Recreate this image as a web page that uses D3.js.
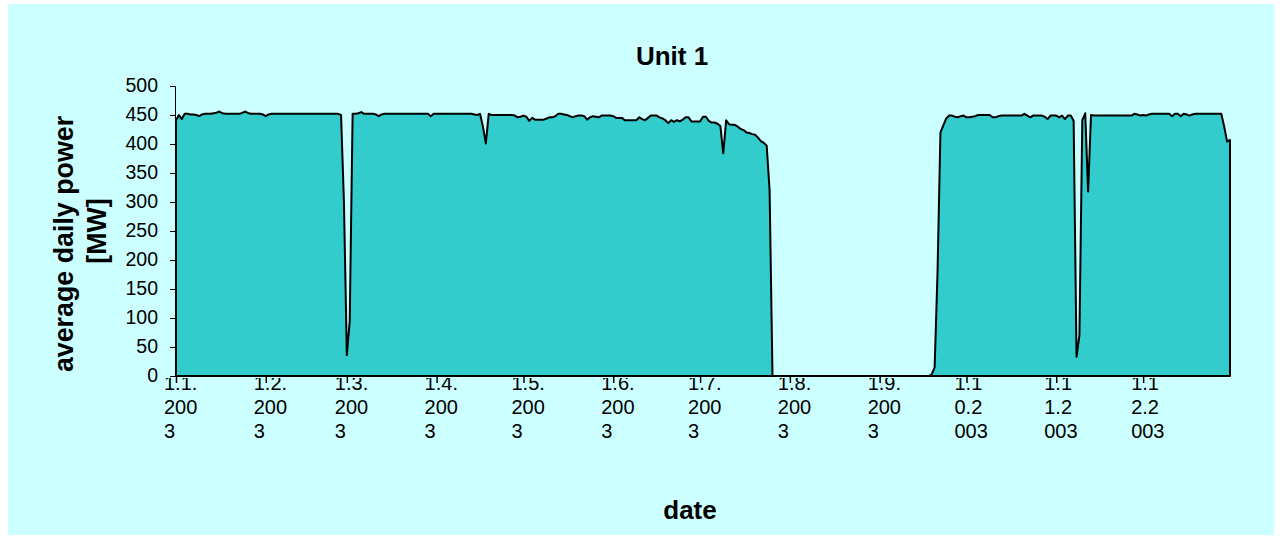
<!DOCTYPE html>
<html><head><meta charset="utf-8">
<script src="https://cdn.jsdelivr.net/npm/d3@7"></script>
<style>
body{margin:0;background:#ffffff}
svg{display:block}
text{font-family:"Liberation Sans",Arial,sans-serif;fill:#000}
</style>
</head><body>
<svg id="chart" width="1282" height="539"></svg>
<script>
// ---------- data ----------
const chartTitle = "Unit 1";
const yAxisTitle = ["average daily power", "[MW]"];
const xAxisTitle = "date";
const firstDay = "2003-01-01";
const lastDay = "2003-12-31";
const yTickValues = [0, 50, 100, 150, 200, 250, 300, 350, 400, 450, 500];
const xTickDates = ["2003-01-01","2003-02-01","2003-03-01","2003-04-01","2003-05-01","2003-06-01",
                    "2003-07-01","2003-08-01","2003-09-01","2003-10-01","2003-11-01","2003-12-01"];
const xTickLabels = ["1.1.2003","1.2.2003","1.3.2003","1.4.2003","1.5.2003","1.6.2003",
                     "1.7.2003","1.8.2003","1.9.2003","1.10.2003","1.11.2003","1.12.2003"];
// average daily power [MW], one value per day from 1.1.2003
const dailyPower = [
441,450,443,452,452,451,451,450,448,451,
452,452,452,453,454,456,453,452,452,452,
452,452,452,454,456,453,452,452,452,452,
451,448,451,452,452,452,452,452,452,452,
452,452,452,452,452,452,452,452,452,452,
452,452,452,452,452,452,452,450,300,36,
95,452,452,453,455,452,452,452,452,451,
448,451,452,452,452,452,452,452,452,452,
452,452,452,452,452,452,452,452,448,452,
452,452,452,452,452,452,452,452,452,452,
452,452,452,451,450,452,430,401,452,450,
450,450,450,450,450,450,450,449,446,447,
449,447,440,445,442,442,442,442,444,446,
446,448,452,452,451,450,448,446,448,449,
449,448,442,446,448,447,446,449,449,449,
449,448,445,445,445,441,441,441,441,441,
446,443,441,445,449,449,449,446,444,441,
436,441,438,441,439,442,446,446,439,439,
439,439,447,447,440,437,437,435,431,384,
441,434,433,433,430,426,424,420,419,417,
416,411,405,402,397,320,0,0,0,0,
0,0,0,0,0,0,0,0,0,0,
0,0,0,0,0,0,0,0,0,0,
0,0,0,0,0,0,0,0,0,0,
0,0,0,0,0,0,0,0,0,0,
0,0,0,0,0,0,0,0,0,0,
0,3,15,180,420,432,444,449,449,447,
446,448,449,446,446,447,448,450,450,450,
450,450,446,446,448,449,449,449,449,449,
449,449,449,452,449,446,449,449,449,449,
447,443,449,449,449,446,449,443,449,449,
440,33,70,441,453,318,450,449,449,449,
449,449,449,449,449,449,449,449,449,449,
449,452,451,449,450,449,451,452,452,452,
452,452,452,452,448,452,452,448,452,451,
449,451,452,452,452,452,452,452,452,452,
452,452,430,404,407
];

// ---------- drawing ----------
const svg = d3.select("#chart");
const parse = d3.utcParse("%Y-%m-%d");
const d0 = parse(firstDay);
const series = dailyPower.map((v, i) => ({date: d3.utcDay.offset(d0, i), v}));

const plot = {left: 176, right: 1230, top: 86, bottom: 376};

svg.append("rect").attr("x", 8).attr("y", 4).attr("width", 1266).attr("height", 531)
  .attr("fill", "#CCFFFF");

const x = d3.scaleUtc().domain([d0, parse(lastDay)]).range([plot.left, plot.right]);
const y = d3.scaleLinear().domain([0, 500]).range([plot.bottom, plot.top]);

// area
const area = d3.area().x(d => x(d.date)).y0(y(0)).y1(d => y(d.v));
svg.append("path").datum(series).attr("d", area)
  .attr("fill", "#33CCCC").attr("stroke", "#000").attr("stroke-width", 2)
  .attr("stroke-linejoin", "round");

// y axis
const yAxis = d3.axisLeft(y).tickValues(yTickValues).tickSize(5).tickPadding(12).tickFormat(d3.format("d"));
const gy = svg.append("g").attr("transform", `translate(${plot.left - 1},0)`).call(yAxis);
gy.select(".domain").attr("stroke", "#000").attr("stroke-width", 1);
gy.selectAll(".tick line").attr("stroke", "#000").attr("stroke-width", 1);
gy.selectAll(".tick text").attr("font-size", 19.5).attr("dy", "0.3em")
  .style("font-family", '"Liberation Sans",Arial,sans-serif');

// x axis
const xAxis = d3.axisBottom(x).tickValues(xTickDates.map(parse)).tickSize(7).tickFormat("");
const gx = svg.append("g").attr("transform", `translate(0,${plot.bottom})`).call(xAxis);
gx.select(".domain").attr("stroke", "#000").attr("stroke-width", 2)
  .attr("d", `M${plot.left - 1},0H${plot.right}`);
gx.selectAll(".tick line").attr("stroke", "#000").attr("stroke-width", 1.5);

// x tick labels, wrapped like the original
const clip = svg.append("defs").append("clipPath").attr("id", "xlabclip");
clip.append("rect").attr("x", 0).attr("y", plot.bottom + 2).attr("width", 1282).attr("height", 200);
const labelsG = svg.append("g").attr("clip-path", "url(#xlabclip)");
const measure = svg.append("text").attr("font-size", 20).attr("visibility", "hidden");
function wrap(str, maxW) {
  const lines = []; let cur = "";
  for (const ch of str) {
    measure.text(cur + ch);
    if (cur && measure.node().getComputedTextLength() > maxW) { lines.push(cur); cur = ch; }
    else cur += ch;
  }
  if (cur) lines.push(cur);
  return lines;
}
xTickLabels.forEach((lab, i) => {
  const tx = x(parse(xTickDates[i]));
  const t = labelsG.append("text").attr("x", tx - 12).attr("y", plot.bottom + 14).attr("font-size", 20);
  wrap(lab, 35).forEach((ln, j) => {
    t.append("tspan").attr("x", tx - 12).attr("dy", j === 0 ? 0 : 24).text(ln);
  });
});
measure.remove();

// titles
svg.append("text").attr("x", 672).attr("y", 65).attr("text-anchor", "middle")
  .attr("font-size", 26).attr("font-weight", "bold").text(chartTitle);
svg.append("text").attr("x", 690).attr("y", 519).attr("text-anchor", "middle")
  .attr("font-size", 26).attr("font-weight", "bold").text(xAxisTitle);
svg.append("text").attr("transform", "translate(73,244) rotate(-90)").attr("text-anchor", "middle")
  .attr("font-size", 26.8).attr("font-weight", "bold").text(yAxisTitle[0]);
svg.append("text").attr("transform", "translate(106,231) rotate(-90)").attr("text-anchor", "middle")
  .attr("font-size", 26.8).attr("font-weight", "bold").text(yAxisTitle[1]);
</script>
</body></html>
